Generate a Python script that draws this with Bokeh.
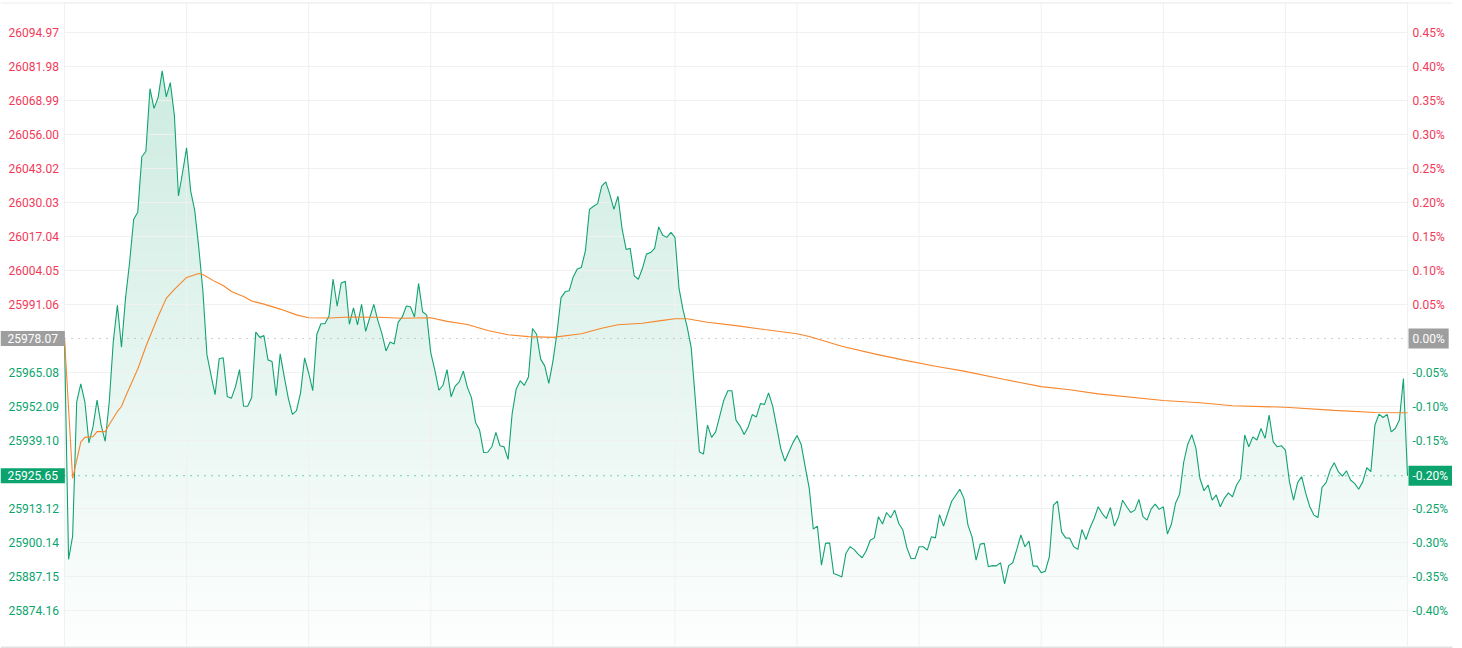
import numpy as np
from bokeh.plotting import figure
from bokeh.models import Range1d, Label
from bokeh.embed import file_html
from bokeh.resources import INLINE

# ---------------- data ----------------
prev_close = 25978.07
last_price = 25925.65

# one value per trading minute (09:30-12:00, 13:00-16:00 -> 331 points)
price = [
    25978.07, 25893.7, 25902.6, 25953.9, 25960.7, 25953.9, 25938.2, 25944.3, 25954.5, 25945.0,
    25938.8, 25953.9, 25977.1, 25990.8, 25974.7, 25993.5, 26007.2, 26023.6, 26026.3, 26047.5,
    26049.6, 26073.5, 26066.0, 26070.1, 26080.3, 26070.4, 26075.8, 26063.3, 26032.5, 26041.4,
    26050.9, 26034.5, 26027.0, 26012.7, 25996.3, 25971.9, 25964.1, 25956.6, 25970.3, 25970.7,
    25955.9, 25955.2, 25959.6, 25966.2, 25952.2, 25952.2, 25955.5, 25980.5, 25978.5, 25979.2,
    25969.9, 25969.3, 25956.2, 25972.2, 25963.4, 25955.2, 25949.1, 25950.5, 25957.3, 25970.7,
    25964.8, 25958.2, 25979.6, 25983.7, 25983.7, 25986.7, 26000.8, 25990.4, 25999.3, 25999.9,
    25983.5, 25989.8, 25983.3, 25991.1, 25980.8, 25986.0, 25991.1, 25984.9, 25979.9, 25973.3,
    25976.7, 25976.0, 25984.3, 25986.3, 25990.5, 25990.2, 25986.3, 25999.1, 25988.3, 25987.0,
    25972.6, 25966.0, 25958.3, 25960.2, 25966.2, 25955.8, 25959.9, 25961.5, 25965.6, 25959.4,
    25955.5, 25946.0, 25943.1, 25934.5, 25934.6, 25936.7, 25942.2, 25937.1, 25936.7, 25931.9,
    25949.4, 25958.8, 25961.9, 25960.2, 25963.4, 25981.9, 25979.7, 25970.2, 25967.6, 25960.9,
    25969.2, 25980.0, 25993.6, 25995.9, 25996.3, 26001.6, 26004.6, 26005.2, 26011.6, 26027.4,
    26028.6, 26029.6, 26036.3, 26037.9, 26033.1, 26027.4, 26032.4, 26020.1, 26012.1, 26012.5,
    26002.0, 26000.7, 26004.8, 26010.3, 26010.9, 26012.5, 26020.7, 26017.5, 26016.7, 26018.6,
    26016.7, 25997.2, 25988.9, 25982.5, 25974.5, 25954.8, 25934.8, 25933.9, 25945.0, 25940.3,
    25942.4, 25948.4, 25954.5, 25958.1, 25958.1, 25946.9, 25944.6, 25941.4, 25944.3, 25949.0,
    25948.1, 25953.2, 25952.9, 25957.3, 25952.3, 25944.3, 25936.0, 25931.2, 25934.8, 25938.3,
    25941.0, 25937.7, 25929.1, 25920.8, 25905.3, 25906.4, 25891.5, 25899.8, 25900.0, 25888.3,
    25887.7, 25887.0, 25895.9, 25898.5, 25897.5, 25895.7, 25894.3, 25897.0, 25901.0, 25901.9,
    25910.0, 25907.2, 25911.6, 25909.6, 25912.5, 25907.4, 25904.9, 25898.1, 25894.0, 25894.0,
    25898.5, 25898.5, 25897.2, 25902.3, 25901.9, 25910.8, 25906.4, 25911.2, 25915.9, 25918.2,
    25920.5, 25917.0, 25906.8, 25902.3, 25893.4, 25899.5, 25899.8, 25890.9, 25891.3, 25891.2,
    25892.4, 25884.3, 25891.3, 25892.4, 25897.5, 25903.0, 25898.5, 25900.7, 25891.1, 25891.1,
    25888.6, 25889.2, 25894.7, 25914.4, 25915.9, 25904.2, 25901.9, 25901.8, 25898.5, 25897.5,
    25905.1, 25901.3, 25905.8, 25909.3, 25913.8, 25911.2, 25909.3, 25913.5, 25906.4, 25910.0,
    25916.3, 25913.8, 25911.6, 25912.5, 25916.6, 25910.0, 25908.7, 25912.9, 25914.8, 25912.8,
    25913.8, 25903.4, 25907.2, 25915.1, 25918.6, 25930.7, 25937.7, 25941.3, 25936.3, 25924.6,
    25919.9, 25922.1, 25916.3, 25918.3, 25913.8, 25917.0, 25919.1, 25917.6, 25922.1, 25924.6,
    25941.2, 25936.7, 25940.5, 25939.3, 25943.7, 25939.9, 25948.8, 25938.6, 25936.7, 25937.1,
    25935.4, 25923.3, 25916.3, 25923.0, 25925.3, 25918.9, 25913.8, 25910.6, 25909.7, 25921.2,
    25923.0, 25927.8, 25930.6, 25927.2, 25925.5, 25927.5, 25924.0, 25922.7, 25920.5, 25923.3,
    25928.7, 25927.2, 25945.0, 25949.2, 25947.9, 25949.1, 25942.4, 25943.7, 25946.9, 25962.8,
    25925.65,
]

# average-price line, read at sample minutes
avg_minutes = [0, 2, 4, 5, 7, 8, 10, 11, 13, 14, 15, 18, 20, 23, 25, 27, 30, 33, 34, 37,
               39, 41, 44, 46, 49, 53, 57, 60, 65, 70, 77, 83, 90, 94, 99, 104, 109, 114,
               120, 127, 132, 136, 142, 147, 150, 153, 158, 165, 172, 180, 183, 191, 199,
               206, 214, 221, 231, 240, 247, 254, 270, 279, 287, 300, 312, 322, 330]
avg_price = [25978.07, 25924.6, 25938.5, 25940.3, 25940.6, 25942.5, 25942.5, 25945.2, 25950.2,
             25952.1, 25955.9, 25966.4, 25975.0, 25986.5, 25993.4, 25996.8, 26001.4, 26002.9,
             26002.5, 25999.8, 25998.3, 25996.0, 25994.1, 25992.4, 25991.2, 25989.3, 25987.1,
             25986.0, 25985.9, 25986.3, 25986.2, 25985.8, 25986.0, 25984.6, 25983.4, 25981.1,
             25979.5, 25978.8, 25978.5, 25979.9, 25982.0, 25983.3, 25983.9, 25985.0, 25985.6,
             25985.6, 25984.3, 25983.0, 25981.5, 25979.9, 25978.8, 25975.1, 25972.2, 25969.9,
             25967.5, 25965.6, 25962.4, 25959.7, 25958.5, 25956.9, 25954.4, 25953.5, 25952.4,
             25951.8, 25950.6, 25949.8, 25949.7]

# axis ticks: steps of 0.05 % from previous close
tick_steps = [9, 8, 7, 6, 5, 4, 3, 2, 1, -1, -2, -3, -5, -6, -7, -8]
price_tick_labels = ["26094.97", "26081.98", "26068.99", "26056.00", "26043.02", "26030.03",
                     "26017.04", "26004.05", "25991.06", "25965.08", "25952.09", "25939.10",
                     "25913.12", "25900.14", "25887.15", "25874.16"]
pct_tick_labels = ["0.45%", "0.40%", "0.35%", "0.30%", "0.25%", "0.20%", "0.15%", "0.10%",
                   "0.05%", "-0.05%", "-0.10%", "-0.15%", "-0.25%", "-0.30%", "-0.35%", "-0.40%"]
prev_close_label = "25978.07"
prev_close_pct_label = "0.00%"
last_price_label = "25925.65"
last_pct_label = "%.2f%%" % ((last_price / prev_close - 1) * 100)
session_grid_minutes = [0, 30, 60, 90, 120, 150, 180, 210, 240, 270, 300, 330]
n_minutes = 330

# ---------------- styling / layout ----------------
RED = "#f23a58"
GREEN = "#0ca46e"
LINE_GREEN = "#12a36f"
GRAY = "#9e9e9e"
ORANGE = "#f7862c"
GRID = "#f1f1f1"
BORDER = "#ececec"
FONT = "Roboto"

W, H = 1462, 648
PL, PR, PT, PB = 64, 1407, 2, 646        # plot area in page pixels
BASE_Y = 338                              # page y of previous close
ppm = (PR - PL) / n_minutes               # px per minute
px = prev_close * 0.0005 / 34.0           # price units per px


def xm(page_x):
    return (page_x - PL) / ppm


def yp(page_y):
    return prev_close + (BASE_Y - page_y) * px


minutes = list(range(len(price)))
price_arr = np.array(price)
tick_values = [prev_close * (1 + 0.0005 * k) for k in tick_steps]
y_plot_top, y_plot_bot = yp(PT), yp(PB)

p = figure(width=W, height=H, x_range=Range1d(xm(0), xm(W)), y_range=Range1d(yp(H), yp(0)),
           output_backend="svg", toolbar_location=None,
           x_axis_location=None, y_axis_location=None,
           min_border_left=0, min_border_right=0, min_border_top=0, min_border_bottom=0)
p.outline_line_color = None
p.background_fill_color = "white"
p.border_fill_color = "white"
p.xgrid.visible = False
p.ygrid.visible = False

# vertical gradient under the price line (image), masked above the line with white
rows = 640
frac = np.linspace(0.0, 1.0, rows)          # 0 = bottom, 1 = top
alpha = 0.008 + 0.225 * frac
base_rgb = np.array([18, 163, 111], dtype=float)
rgb = 255 - alpha[:, None] * (255 - base_rgb[None, :])
img = np.empty((rows, 1), dtype=np.uint32)
view = img.view(dtype=np.uint8).reshape((rows, 1, 4))
view[:, 0, 0] = rgb[:, 0].round().astype(np.uint8)
view[:, 0, 1] = rgb[:, 1].round().astype(np.uint8)
view[:, 0, 2] = rgb[:, 2].round().astype(np.uint8)
view[:, 0, 3] = 255
p.image_rgba(image=[img], x=0, y=y_plot_bot, dw=n_minutes, dh=y_plot_top - y_plot_bot)
p.varea(x=minutes, y1=price_arr, y2=y_plot_top, fill_color="white", fill_alpha=1.0)

# grid lines (drawn over the fill)
ng = len(tick_values)
p.segment(x0=[0] * ng, x1=[n_minutes] * ng, y0=tick_values, y1=tick_values,
          line_color=GRID, line_width=1)
ns = len(session_grid_minutes)
p.segment(x0=session_grid_minutes, x1=session_grid_minutes,
          y0=[y_plot_bot] * ns, y1=[y_plot_top] * ns, line_color=GRID, line_width=1)
# frame lines: top and bottom across the full width
p.segment(x0=[xm(0), xm(0)], x1=[xm(1452), xm(1452)], y0=[yp(PT + 0.5), yp(PB + 1)],
          y1=[yp(PT + 0.5), yp(PB + 1)], line_color=[BORDER, "#e2e2e2"], line_width=[1, 2])

# dotted reference lines
p.segment(x0=[0, 0], x1=[n_minutes, n_minutes], y0=[prev_close, last_price],
          y1=[prev_close, last_price], line_color=[GRAY, GREEN], line_dash="1 6", line_width=1)

p.line(minutes, price, line_color=LINE_GREEN, line_width=1.1)
p.line(avg_minutes, avg_price, line_color=ORANGE, line_width=1.1)

# axis labels (screen x measured from the left edge of the canvas)
for v, lab in zip(tick_values, price_tick_labels):
    p.add_layout(Label(x=8, x_units="screen", y=v, y_units="data", text=lab,
                       text_font=FONT, text_font_size="12px", text_baseline="middle",
                       text_align="left", text_color=RED if v > prev_close else GREEN))
for v, lab in zip(tick_values, pct_tick_labels):
    p.add_layout(Label(x=1412, x_units="screen", y=v, y_units="data", text=lab,
                       text_font=FONT, text_font_size="12px", text_baseline="middle",
                       text_align="left", text_color=RED if v > prev_close else GREEN))

for xx, yy, lab, bg, pad in [(0, prev_close, prev_close_label, GRAY, (7, 3)),
                             (0, last_price, last_price_label, GREEN, (7, 3)),
                             (1408, prev_close, prev_close_pct_label, GRAY, (4, 3)),
                             (1408, last_price, last_pct_label, GREEN, (4, 3))]:
    p.add_layout(Label(x=xx, x_units="screen", y=yy, y_units="data", text=lab,
                       text_font=FONT, text_font_size="12px", text_baseline="middle",
                       text_align="left", text_color="white",
                       background_fill_color=bg, background_fill_alpha=1.0, padding=pad))

open("out.html", "w").write(file_html(p, INLINE))
